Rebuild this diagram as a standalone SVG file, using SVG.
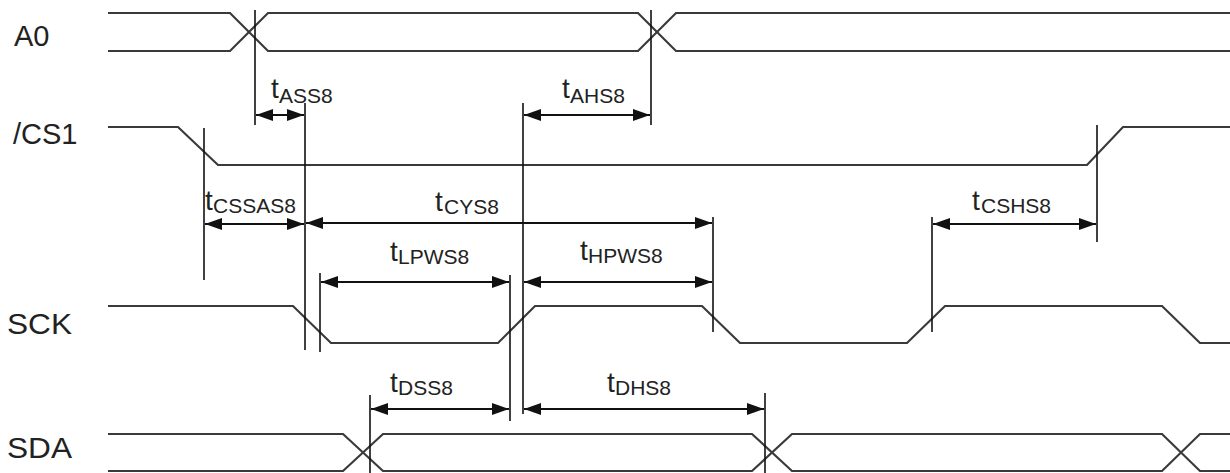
<svg xmlns="http://www.w3.org/2000/svg" width="1230" height="473" viewBox="0 0 1230 473">
  <style>
    .sig { fill: none; stroke: #3a3a3a; stroke-width: 2.2; stroke-linejoin: miter; }
    .ref { fill: none; stroke: #111; stroke-width: 1.6; }
    .dim { fill: none; stroke: #111; stroke-width: 2.2; marker-start: url(#ah); marker-end: url(#ah); }
    .name { font-family: "Liberation Sans", Arial, sans-serif; font-size: 29px; fill: #222; }
    .t { font-family: "Liberation Sans", Arial, sans-serif; font-size: 28px; fill: #222; }
    .sub { font-family: "Liberation Sans", Arial, sans-serif; font-size: 21px; fill: #222; }
  </style>
  <defs>
    <marker id="ah" viewBox="0 0 17 12" refX="17" refY="6" markerWidth="17" markerHeight="12" markerUnits="userSpaceOnUse" orient="auto-start-reverse">
      <path d="M0,0 L17,6 L0,12 z" fill="#111"/>
    </marker>
  </defs>
  <rect width="1230" height="473" fill="#fff"/>

  <g id="A0">
    <text class="name" x="14" y="46">A0</text>
    <path class="sig" d="M108,13 H230 L268,51 H638 L676,13 H1230"/>
    <path class="sig" d="M108,51 H230 L268,13 H638 L676,51 H1230"/>
  </g>

  <g id="CS1">
    <text class="name" x="13" y="144">/CS1</text>
    <path class="sig" d="M108,127 H178 L218,165 H1087 L1123,127 H1230"/>
  </g>

  <g id="SCK">
    <text class="name" x="7" y="334" textLength="65" lengthAdjust="spacingAndGlyphs">SCK</text>
    <path class="sig" d="M108,306 H293 L331,343 H498 L535,306 H702 L740,343 H907 L945,306 H1162 L1200,343 H1230"/>
  </g>

  <g id="SDA">
    <text class="name" x="7" y="458" textLength="65" lengthAdjust="spacingAndGlyphs">SDA</text>
    <path class="sig" d="M108,434 H343 L383,471 H752 L792,434 H1162 L1200,471 H1230"/>
    <path class="sig" d="M108,471 H343 L383,434 H752 L792,471 H1162 L1200,434 H1230"/>
  </g>

  <g id="connectors">
    <line class="ref" x1="255" y1="10" x2="255" y2="125"/>
    <line class="ref" x1="305" y1="103" x2="305" y2="350"/>
    <line class="ref" x1="651" y1="10" x2="651" y2="125"/>
    <line class="ref" x1="523" y1="103" x2="523" y2="414"/>
    <line class="ref" x1="204" y1="128" x2="204" y2="280"/>
    <line class="ref" x1="1097" y1="125" x2="1097" y2="242"/>
    <line class="ref" x1="713" y1="217" x2="713" y2="332"/>
    <line class="ref" x1="320" y1="273" x2="320" y2="352"/>
    <line class="ref" x1="510" y1="275" x2="510" y2="421"/>
    <line class="ref" x1="932" y1="217" x2="932" y2="332"/>
    <line class="ref" x1="370" y1="395" x2="370" y2="473"/>
    <line class="ref" x1="765" y1="393" x2="765" y2="473"/>

    <line class="dim" x1="256" y1="115" x2="304" y2="115"/>
    <line class="dim" x1="524" y1="115" x2="650" y2="115"/>
    <line class="dim" x1="205" y1="224" x2="304" y2="224"/>
    <line class="dim" x1="306" y1="223" x2="712" y2="223"/>
    <line class="dim" x1="933" y1="224" x2="1096" y2="224"/>
    <line class="dim" x1="321" y1="282" x2="509" y2="282"/>
    <line class="dim" x1="524" y1="282" x2="712" y2="282"/>
    <line class="dim" x1="371" y1="409" x2="509" y2="409"/>
    <line class="dim" x1="524" y1="409" x2="764" y2="409"/>
  </g>

  <g id="labels">
    <text x="271" y="98"><tspan class="t">t</tspan><tspan class="sub" x="279" y="103">ASS8</tspan></text>
    <text x="562" y="98"><tspan class="t">t</tspan><tspan class="sub" x="570" y="103">AHS8</tspan></text>
    <text x="205" y="210"><tspan class="t">t</tspan><tspan class="sub" x="213" y="213">CSSAS8</tspan></text>
    <text x="435" y="211"><tspan class="t">t</tspan><tspan class="sub" x="444" y="214">CYS8</tspan></text>
    <text x="972" y="210"><tspan class="t">t</tspan><tspan class="sub" x="981" y="213">CSHS8</tspan></text>
    <text x="390" y="261"><tspan class="t">t</tspan><tspan class="sub" x="398" y="264">LPWS8</tspan></text>
    <text x="580" y="260"><tspan class="t">t</tspan><tspan class="sub" x="588" y="263">HPWS8</tspan></text>
    <text x="390" y="392"><tspan class="t">t</tspan><tspan class="sub" x="398" y="395">DSS8</tspan></text>
    <text x="607" y="392"><tspan class="t">t</tspan><tspan class="sub" x="615" y="395">DHS8</tspan></text>
  </g>
</svg>
